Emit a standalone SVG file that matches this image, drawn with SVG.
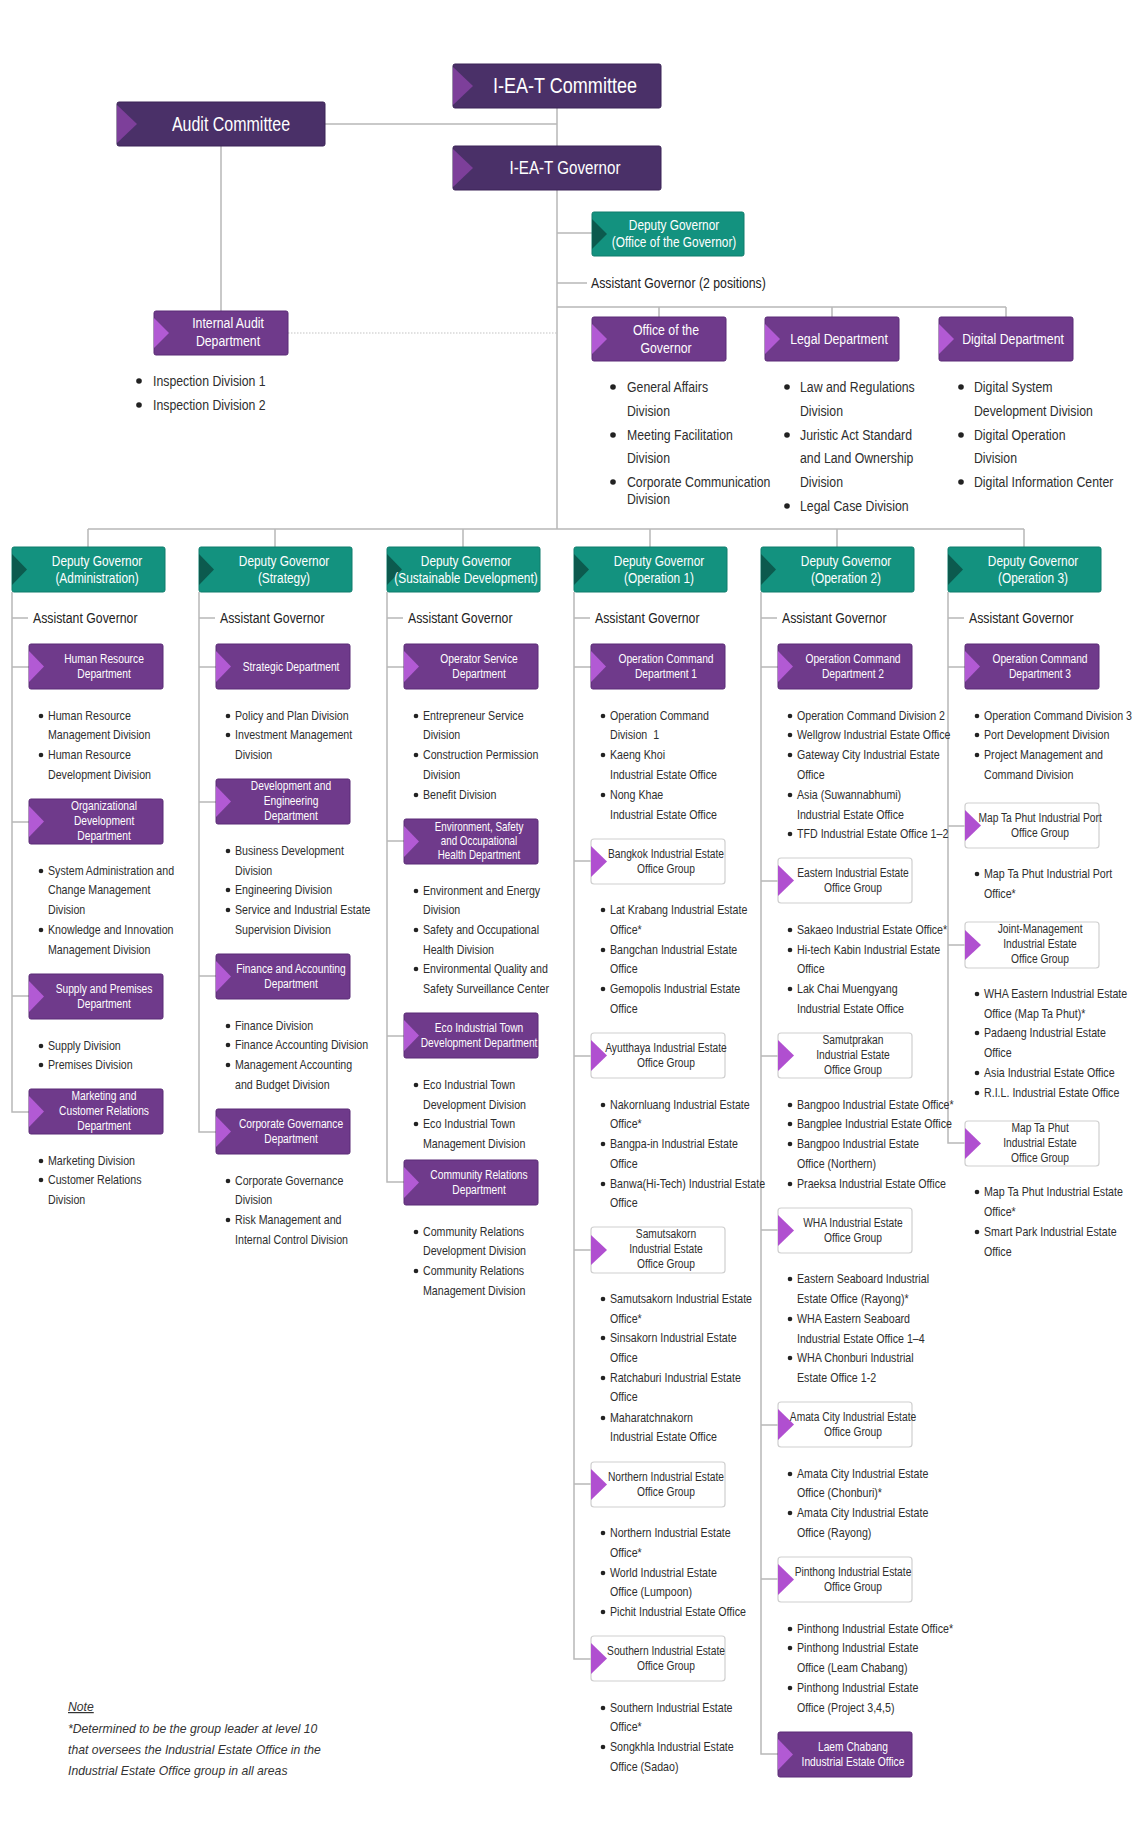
<svg xmlns="http://www.w3.org/2000/svg" width="1140" height="1841" viewBox="0 0 1140 1841">
<style>
text{font-family:"Liberation Sans",Arial,sans-serif;transform-box:fill-box;transform-origin:50% 50%;transform:scaleX(0.82)}
.ln{stroke:#b8b8b8;stroke-width:1.5;fill:none}
.dt{stroke:#c4c4c4;stroke-width:1.2;stroke-dasharray:1.5 1.5;fill:none}
.db{fill:#4a3068;stroke:#3a2356;stroke-width:1}
.dc{fill:#7d3f9a}
.pb{fill:#6f3a8b;stroke:#5a2a76;stroke-width:1}
.pc{fill:#b25ad4}
.tb{fill:#13927f;stroke:#0f7d6c;stroke-width:1}
.tc{fill:#0c5a4e}
.wb{fill:#fff;stroke:#cfcfcf;stroke-width:1.2}
.wc{fill:#b04fd0}
.wt{fill:#fff;font-size:12.5px;text-anchor:middle}
.tt{fill:#fff;font-size:14.5px;text-anchor:middle}
.gt{fill:#2e2e2e;font-size:12.5px;text-anchor:middle}
.lt{fill:#2e2e2e;font-size:13px;transform-origin:0% 50%}
.ht{fill:#2e2e2e;font-size:15px;transform-origin:0% 50%}
.ag{fill:#222;font-size:15px;transform-origin:0% 50%}
.bu{fill:#222}
.nt{fill:#333;font-size:12.2px;font-style:italic;transform:none}
</style>
<rect width="1140" height="1841" fill="#fff"/>

<g id="connectors">
<path class="ln" d="M557,108 V146 M325,124 H557 M557,190 V529 M557,233 H592 M557,283 H587 M557,307 H1006 M659,307 V317 M832,307 V317 M1006,307 V317 M221,146 V311"/>
<path class="dt" d="M288,333 H557"/>
<path class="ln" d="M88,529 H1024 M88,529 V547 M275,529 V547 M463,529 V547 M650,529 V547 M837,529 V547 M1024,529 V547"/>
<path class="ln" d="M12,592 V1112 H29 M12,618 H28 M12,667 H29 M12,822 H29 M12,996 H29"/>
<path class="ln" d="M199,592 V1132 H216 M199,618 H215 M199,667 H216 M199,802 H216 M199,976 H216"/>
<path class="ln" d="M387,592 V1182 H404 M387,618 H403 M387,667 H404 M387,841 H404 M387,1036 H404"/>
<path class="ln" d="M574,592 V1659 H591 M574,618 H590 M574,667 H591 M574,861 H591 M574,1056 H591 M574,1250 H591 M574,1484 H591"/>
<path class="ln" d="M761,592 V1754 H778 M761,618 H777 M761,667 H778 M761,881 H778 M761,1056 H778 M761,1230 H778 M761,1425 H778 M761,1579 H778"/>
<path class="ln" d="M948,592 V1143 H965 M948,618 H964 M948,667 H965 M948,826 H965 M948,945 H965"/>
</g>

<g id="committee">
<rect class="db" x="453" y="64" width="208" height="44" rx="2"/>
<polygon class="dc" points="453,67 473,86 453,105"/>
<text x="565" y="93.5" fill="#fff" font-size="22" text-anchor="middle">I-EA-T Committee</text>
</g>
<g id="audit-committee">
<rect class="db" x="117" y="102" width="208" height="44" rx="2"/>
<polygon class="dc" points="117,105 137,124 117,143"/>
<text x="231" y="131" fill="#fff" font-size="19.5" text-anchor="middle">Audit Committee</text>
</g>
<g id="governor">
<rect class="db" x="453" y="146" width="208" height="44" rx="2"/>
<polygon class="dc" points="453,149 473,168 453,187"/>
<text x="565" y="174.5" fill="#fff" font-size="18.5" text-anchor="middle">I-EA-T Governor</text>
</g>
<g id="deputy-office">
<rect class="tb" x="592" y="212" width="152" height="44" rx="2"/>
<polygon class="tc" points="592,219 607,234 592,249"/>
<text class="tt" x="674" y="230">Deputy Governor</text>
<text class="tt" x="674" y="247">(Office of the Governor)</text>
</g>
<g id="assistant-2">
<text class="ag" x="591" y="288">Assistant Governor (2 positions)</text>
</g>

<g id="internal-audit">
<rect class="pb" x="154" y="311" width="134" height="44" rx="2"/>
<polygon class="pc" points="154,318 169,333 154,348"/>
<text x="228" y="328.5" fill="#fff" font-size="15" text-anchor="middle">Internal Audit</text>
<text x="228" y="346.5" fill="#fff" font-size="15" text-anchor="middle">Department</text>
<circle class="bu" cx="139" cy="381" r="2.8"/><text class="ht" x="153" y="386">Inspection Division 1</text>
<circle class="bu" cx="139" cy="405" r="2.8"/><text class="ht" x="153" y="410">Inspection Division 2</text>
</g>

<g id="office-governor">
<rect class="pb" x="592" y="317" width="134" height="44" rx="2"/>
<polygon class="pc" points="592,324 607,339 592,354"/>
<text x="666" y="335.5" fill="#fff" font-size="15" text-anchor="middle">Office of the</text>
<text x="666" y="353.5" fill="#fff" font-size="15" text-anchor="middle">Governor</text>
<circle class="bu" cx="613" cy="387" r="2.8"/><text class="ht" x="627" y="392">General Affairs</text>
<text class="ht" x="627" y="416">Division</text>
<circle class="bu" cx="613" cy="435" r="2.8"/><text class="ht" x="627" y="440">Meeting Facilitation</text>
<text class="ht" x="627" y="463">Division</text>
<circle class="bu" cx="613" cy="482" r="2.8"/><text class="ht" x="627" y="487">Corporate Communication</text>
<text class="ht" x="627" y="504">Division</text>
</g>
<g id="legal">
<rect class="pb" x="765" y="317" width="134" height="44" rx="2"/>
<polygon class="pc" points="765,324 780,339 765,354"/>
<text x="839" y="344.5" fill="#fff" font-size="15" text-anchor="middle">Legal Department</text>
<circle class="bu" cx="787" cy="387" r="2.8"/><text class="ht" x="800" y="392">Law and Regulations</text>
<text class="ht" x="800" y="416">Division</text>
<circle class="bu" cx="787" cy="435" r="2.8"/><text class="ht" x="800" y="440">Juristic Act Standard</text>
<text class="ht" x="800" y="463">and Land Ownership</text>
<text class="ht" x="800" y="487">Division</text>
<circle class="bu" cx="787" cy="506" r="2.8"/><text class="ht" x="800" y="511">Legal Case Division</text>
</g>
<g id="digital">
<rect class="pb" x="939" y="317" width="134" height="44" rx="2"/>
<polygon class="pc" points="939,324 954,339 939,354"/>
<text x="1013" y="344.5" fill="#fff" font-size="15" text-anchor="middle">Digital Department</text>
<circle class="bu" cx="961" cy="387" r="2.8"/><text class="ht" x="974" y="392">Digital System</text>
<text class="ht" x="974" y="416">Development Division</text>
<circle class="bu" cx="961" cy="435" r="2.8"/><text class="ht" x="974" y="440">Digital Operation</text>
<text class="ht" x="974" y="463">Division</text>
<circle class="bu" cx="961" cy="482" r="2.8"/><text class="ht" x="974" y="487">Digital Information Center</text>
</g>

<!-- Column 1 -->
<g id="dg-admin">
<rect class="tb" x="12" y="547" width="153" height="45" rx="2"/>
<polygon class="tc" points="12,554 27,569.5 12,585"/>
<text class="tt" x="97" y="566">Deputy Governor</text>
<text class="tt" x="97" y="583">(Administration)</text>
<text class="ag" x="33" y="623">Assistant Governor</text>
</g>
<g id="hr-dept">
<rect class="pb" x="29" y="644" width="134" height="45" rx="2"/>
<polygon class="pc" points="29,651 44,666.5 29,682"/>
<text class="wt" x="104" y="663">Human Resource</text>
<text class="wt" x="104" y="678">Department</text>
<circle class="bu" cx="41" cy="716" r="2.3"/><text class="lt" x="48" y="720">Human Resource</text>
<text class="lt" x="48" y="739">Management Division</text>
<circle class="bu" cx="41" cy="755" r="2.3"/><text class="lt" x="48" y="759">Human Resource</text>
<text class="lt" x="48" y="779">Development Division</text>
</g>
<g id="orgdev-dept">
<rect class="pb" x="29" y="799" width="134" height="45" rx="2"/>
<polygon class="pc" points="29,806 44,821.5 29,837"/>
<text class="wt" x="104" y="810.5">Organizational</text>
<text class="wt" x="104" y="825.5">Development</text>
<text class="wt" x="104" y="840.5">Department</text>
<circle class="bu" cx="41" cy="871" r="2.3"/><text class="lt" x="48" y="875">System Administration and</text>
<text class="lt" x="48" y="894">Change Management</text>
<text class="lt" x="48" y="914">Division</text>
<circle class="bu" cx="41" cy="930" r="2.3"/><text class="lt" x="48" y="934">Knowledge and Innovation</text>
<text class="lt" x="48" y="954">Management Division</text>
</g>
<g id="supply-dept">
<rect class="pb" x="29" y="974" width="134" height="45" rx="2"/>
<polygon class="pc" points="29,981 44,996.5 29,1012"/>
<text class="wt" x="104" y="993.5">Supply and Premises</text>
<text class="wt" x="104" y="1008">Department</text>
<circle class="bu" cx="41" cy="1046" r="2.3"/><text class="lt" x="48" y="1050">Supply Division</text>
<circle class="bu" cx="41" cy="1065" r="2.3"/><text class="lt" x="48" y="1069">Premises Division</text>
</g>
<g id="marketing-dept">
<rect class="pb" x="29" y="1089" width="134" height="45" rx="2"/>
<polygon class="pc" points="29,1096 44,1111.5 29,1127"/>
<text class="wt" x="104" y="1100.5">Marketing and</text>
<text class="wt" x="104" y="1115.5">Customer Relations</text>
<text class="wt" x="104" y="1130.5">Department</text>
<circle class="bu" cx="41" cy="1161" r="2.3"/><text class="lt" x="48" y="1165">Marketing Division</text>
<circle class="bu" cx="41" cy="1180" r="2.3"/><text class="lt" x="48" y="1184">Customer Relations</text>
<text class="lt" x="48" y="1204">Division</text>
</g>

<!-- Column 2 -->
<g id="dg-strategy">
<rect class="tb" x="199" y="547" width="153" height="45" rx="2"/>
<polygon class="tc" points="199,554 214,569.5 199,585"/>
<text class="tt" x="284" y="566">Deputy Governor</text>
<text class="tt" x="284" y="583">(Strategy)</text>
<text class="ag" x="220" y="623">Assistant Governor</text>
</g>
<g id="strategic-dept">
<rect class="pb" x="216" y="644" width="134" height="45" rx="2"/>
<polygon class="pc" points="216,651 231,666.5 216,682"/>
<text class="wt" x="291" y="671">Strategic Department</text>
<circle class="bu" cx="228" cy="716" r="2.3"/><text class="lt" x="235" y="720">Policy and Plan Division</text>
<circle class="bu" cx="228" cy="735" r="2.3"/><text class="lt" x="235" y="739">Investment Management</text>
<text class="lt" x="235" y="759">Division</text>
</g>
<g id="deveng-dept">
<rect class="pb" x="216" y="779" width="134" height="45" rx="2"/>
<polygon class="pc" points="216,786 231,801.5 216,817"/>
<text class="wt" x="291" y="790.5">Development and</text>
<text class="wt" x="291" y="805.5">Engineering</text>
<text class="wt" x="291" y="820.5">Department</text>
<circle class="bu" cx="228" cy="851" r="2.3"/><text class="lt" x="235" y="855">Business Development</text>
<text class="lt" x="235" y="875">Division</text>
<circle class="bu" cx="228" cy="890" r="2.3"/><text class="lt" x="235" y="894">Engineering Division</text>
<circle class="bu" cx="228" cy="910" r="2.3"/><text class="lt" x="235" y="914">Service and Industrial Estate</text>
<text class="lt" x="235" y="934">Supervision Division</text>
</g>
<g id="finance-dept">
<rect class="pb" x="216" y="954" width="134" height="45" rx="2"/>
<polygon class="pc" points="216,961 231,976.5 216,992"/>
<text class="wt" x="291" y="973.5">Finance and Accounting</text>
<text class="wt" x="291" y="988">Department</text>
<circle class="bu" cx="228" cy="1026" r="2.3"/><text class="lt" x="235" y="1030">Finance Division</text>
<circle class="bu" cx="228" cy="1045" r="2.3"/><text class="lt" x="235" y="1049">Finance Accounting Division</text>
<circle class="bu" cx="228" cy="1065" r="2.3"/><text class="lt" x="235" y="1069">Management Accounting</text>
<text class="lt" x="235" y="1089">and Budget Division</text>
</g>
<g id="corpgov-dept">
<rect class="pb" x="216" y="1109" width="134" height="45" rx="2"/>
<polygon class="pc" points="216,1116 231,1131.5 216,1147"/>
<text class="wt" x="291" y="1128.5">Corporate Governance</text>
<text class="wt" x="291" y="1143">Department</text>
<circle class="bu" cx="228" cy="1181" r="2.3"/><text class="lt" x="235" y="1185">Corporate Governance</text>
<text class="lt" x="235" y="1204">Division</text>
<circle class="bu" cx="228" cy="1220" r="2.3"/><text class="lt" x="235" y="1224">Risk Management and</text>
<text class="lt" x="235" y="1244">Internal Control Division</text>
</g>

<!-- Column 3 -->
<g id="dg-sustainable">
<rect class="tb" x="387" y="547" width="153" height="45" rx="2"/>
<polygon class="tc" points="387,554 402,569.5 387,585"/>
<text class="tt" x="466" y="566">Deputy Governor</text>
<text class="tt" x="466" y="583">(Sustainable Development)</text>
<text class="ag" x="408" y="623">Assistant Governor</text>
</g>
<g id="operator-dept">
<rect class="pb" x="404" y="644" width="134" height="45" rx="2"/>
<polygon class="pc" points="404,651 419,666.5 404,682"/>
<text class="wt" x="479" y="663">Operator Service</text>
<text class="wt" x="479" y="678">Department</text>
<circle class="bu" cx="416" cy="716" r="2.3"/><text class="lt" x="423" y="720">Entrepreneur Service</text>
<text class="lt" x="423" y="739">Division</text>
<circle class="bu" cx="416" cy="755" r="2.3"/><text class="lt" x="423" y="759">Construction Permission</text>
<text class="lt" x="423" y="779">Division</text>
<circle class="bu" cx="416" cy="795" r="2.3"/><text class="lt" x="423" y="799">Benefit Division</text>
</g>
<g id="envsafety-dept">
<rect class="pb" x="404" y="819" width="134" height="45" rx="2"/>
<polygon class="pc" points="404,826 419,841.5 404,857"/>
<text class="wt" x="479" y="831.5" style="font-size:12px">Environment, Safety</text>
<text class="wt" x="479" y="845.5" style="font-size:12px">and Occupational</text>
<text class="wt" x="479" y="859.5" style="font-size:12px">Health Department</text>
<circle class="bu" cx="416" cy="891" r="2.3"/><text class="lt" x="423" y="895">Environment and Energy</text>
<text class="lt" x="423" y="914">Division</text>
<circle class="bu" cx="416" cy="930" r="2.3"/><text class="lt" x="423" y="934">Safety and Occupational</text>
<text class="lt" x="423" y="954">Health Division</text>
<circle class="bu" cx="416" cy="969" r="2.3"/><text class="lt" x="423" y="973">Environmental Quality and</text>
<text class="lt" x="423" y="993">Safety Surveillance Center</text>
</g>
<g id="eco-dept">
<rect class="pb" x="404" y="1013" width="134" height="45" rx="2"/>
<polygon class="pc" points="404,1020 419,1035.5 404,1051"/>
<text class="wt" x="479" y="1032.5">Eco Industrial Town</text>
<text class="wt" x="479" y="1047">Development Department</text>
<circle class="bu" cx="416" cy="1085" r="2.3"/><text class="lt" x="423" y="1089">Eco Industrial Town</text>
<text class="lt" x="423" y="1109">Development Division</text>
<circle class="bu" cx="416" cy="1124" r="2.3"/><text class="lt" x="423" y="1128">Eco Industrial Town</text>
<text class="lt" x="423" y="1148">Management Division</text>
</g>
<g id="community-dept">
<rect class="pb" x="404" y="1160" width="134" height="45" rx="2"/>
<polygon class="pc" points="404,1167 419,1182.5 404,1198"/>
<text class="wt" x="479" y="1179.5">Community Relations</text>
<text class="wt" x="479" y="1194">Department</text>
<circle class="bu" cx="416" cy="1232" r="2.3"/><text class="lt" x="423" y="1236">Community Relations</text>
<text class="lt" x="423" y="1255">Development Division</text>
<circle class="bu" cx="416" cy="1271" r="2.3"/><text class="lt" x="423" y="1275">Community Relations</text>
<text class="lt" x="423" y="1295">Management Division</text>
</g>

<!-- Column 4 -->
<g id="dg-op1">
<rect class="tb" x="574" y="547" width="153" height="45" rx="2"/>
<polygon class="tc" points="574,554 589,569.5 574,585"/>
<text class="tt" x="659" y="566">Deputy Governor</text>
<text class="tt" x="659" y="583">(Operation 1)</text>
<text class="ag" x="595" y="623">Assistant Governor</text>
</g>
<g id="opcmd1-dept">
<rect class="pb" x="591" y="644" width="134" height="45" rx="2"/>
<polygon class="pc" points="591,651 606,666.5 591,682"/>
<text class="wt" x="666" y="663">Operation Command</text>
<text class="wt" x="666" y="678">Department 1</text>
<circle class="bu" cx="603" cy="716" r="2.3"/><text class="lt" x="610" y="720">Operation Command</text>
<text class="lt" x="610" y="739" xml:space="preserve">Division  1</text>
<circle class="bu" cx="603" cy="755" r="2.3"/><text class="lt" x="610" y="759">Kaeng Khoi</text>
<text class="lt" x="610" y="779">Industrial Estate Office</text>
<circle class="bu" cx="603" cy="795" r="2.3"/><text class="lt" x="610" y="799">Nong Khae</text>
<text class="lt" x="610" y="819">Industrial Estate Office</text>
</g>
<g id="bangkok-group">
<rect class="wb" x="591" y="839" width="134" height="45" rx="3"/>
<polygon class="wc" points="591,846 607,861.5 591,877"/>
<text class="gt" x="666" y="858.5">Bangkok Industrial Estate</text>
<text class="gt" x="666" y="873">Office Group</text>
<circle class="bu" cx="603" cy="910" r="2.3"/><text class="lt" x="610" y="914">Lat Krabang Industrial Estate</text>
<text class="lt" x="610" y="934">Office*</text>
<circle class="bu" cx="603" cy="950" r="2.3"/><text class="lt" x="610" y="954">Bangchan Industrial Estate</text>
<text class="lt" x="610" y="973">Office</text>
<circle class="bu" cx="603" cy="989" r="2.3"/><text class="lt" x="610" y="993">Gemopolis Industrial Estate</text>
<text class="lt" x="610" y="1013">Office</text>
</g>
<g id="ayutthaya-group">
<rect class="wb" x="591" y="1033" width="134" height="45" rx="3"/>
<polygon class="wc" points="591,1040 607,1055.5 591,1071"/>
<text class="gt" x="666" y="1052.5">Ayutthaya Industrial Estate</text>
<text class="gt" x="666" y="1067">Office Group</text>
<circle class="bu" cx="603" cy="1105" r="2.3"/><text class="lt" x="610" y="1109">Nakornluang Industrial Estate</text>
<text class="lt" x="610" y="1128">Office*</text>
<circle class="bu" cx="603" cy="1144" r="2.3"/><text class="lt" x="610" y="1148">Bangpa-in Industrial Estate</text>
<text class="lt" x="610" y="1168">Office</text>
<circle class="bu" cx="603" cy="1184" r="2.3"/><text class="lt" x="610" y="1188">Banwa(Hi-Tech) Industrial Estate</text>
<text class="lt" x="610" y="1207">Office</text>
</g>
<g id="samutsakorn-group">
<rect class="wb" x="591" y="1227" width="134" height="46" rx="3"/>
<polygon class="wc" points="591,1235 607,1250 591,1265"/>
<text class="gt" x="666" y="1238.5">Samutsakorn</text>
<text class="gt" x="666" y="1253.5">Industrial Estate</text>
<text class="gt" x="666" y="1268.5">Office Group</text>
<circle class="bu" cx="603" cy="1299" r="2.3"/><text class="lt" x="610" y="1303">Samutsakorn Industrial Estate</text>
<text class="lt" x="610" y="1323">Office*</text>
<circle class="bu" cx="603" cy="1338" r="2.3"/><text class="lt" x="610" y="1342">Sinsakorn Industrial Estate</text>
<text class="lt" x="610" y="1362">Office</text>
<circle class="bu" cx="603" cy="1378" r="2.3"/><text class="lt" x="610" y="1382">Ratchaburi Industrial Estate</text>
<text class="lt" x="610" y="1401">Office</text>
<circle class="bu" cx="603" cy="1418" r="2.3"/><text class="lt" x="610" y="1422">Maharatchnakorn</text>
<text class="lt" x="610" y="1441">Industrial Estate Office</text>
</g>
<g id="northern-group">
<rect class="wb" x="591" y="1462" width="134" height="45" rx="3"/>
<polygon class="wc" points="591,1469 607,1484.5 591,1500"/>
<text class="gt" x="666" y="1481.5">Northern Industrial Estate</text>
<text class="gt" x="666" y="1496">Office Group</text>
<circle class="bu" cx="603" cy="1533" r="2.3"/><text class="lt" x="610" y="1537">Northern Industrial Estate</text>
<text class="lt" x="610" y="1557">Office*</text>
<circle class="bu" cx="603" cy="1573" r="2.3"/><text class="lt" x="610" y="1577">World Industrial Estate</text>
<text class="lt" x="610" y="1596">Office (Lumpoon)</text>
<circle class="bu" cx="603" cy="1612" r="2.3"/><text class="lt" x="610" y="1616">Pichit Industrial Estate Office</text>
</g>
<g id="southern-group">
<rect class="wb" x="591" y="1636" width="134" height="45" rx="3"/>
<polygon class="wc" points="591,1643 607,1658.5 591,1674"/>
<text class="gt" x="666" y="1655.5">Southern Industrial Estate</text>
<text class="gt" x="666" y="1670">Office Group</text>
<circle class="bu" cx="603" cy="1708" r="2.3"/><text class="lt" x="610" y="1712">Southern Industrial Estate</text>
<text class="lt" x="610" y="1731">Office*</text>
<circle class="bu" cx="603" cy="1747" r="2.3"/><text class="lt" x="610" y="1751">Songkhla Industrial Estate</text>
<text class="lt" x="610" y="1771">Office (Sadao)</text>
</g>

<!-- Column 5 -->
<g id="dg-op2">
<rect class="tb" x="761" y="547" width="153" height="45" rx="2"/>
<polygon class="tc" points="761,554 776,569.5 761,585"/>
<text class="tt" x="846" y="566">Deputy Governor</text>
<text class="tt" x="846" y="583">(Operation 2)</text>
<text class="ag" x="782" y="623">Assistant Governor</text>
</g>
<g id="opcmd2-dept">
<rect class="pb" x="778" y="644" width="134" height="45" rx="2"/>
<polygon class="pc" points="778,651 793,666.5 778,682"/>
<text class="wt" x="853" y="663">Operation Command</text>
<text class="wt" x="853" y="678">Department 2</text>
<circle class="bu" cx="790" cy="716" r="2.3"/><text class="lt" x="797" y="720">Operation Command Division 2</text>
<circle class="bu" cx="790" cy="735" r="2.3"/><text class="lt" x="797" y="739">Wellgrow Industrial Estate Office</text>
<circle class="bu" cx="790" cy="755" r="2.3"/><text class="lt" x="797" y="759">Gateway City Industrial Estate</text>
<text class="lt" x="797" y="779">Office</text>
<circle class="bu" cx="790" cy="795" r="2.3"/><text class="lt" x="797" y="799">Asia (Suwannabhumi)</text>
<text class="lt" x="797" y="819">Industrial Estate Office</text>
<circle class="bu" cx="790" cy="834" r="2.3"/><text class="lt" x="797" y="838">TFD Industrial Estate Office 1–2</text>
</g>
<g id="eastern-group">
<rect class="wb" x="778" y="858" width="134" height="45" rx="3"/>
<polygon class="wc" points="778,865 794,880.5 778,896"/>
<text class="gt" x="853" y="877.5">Eastern Industrial Estate</text>
<text class="gt" x="853" y="892">Office Group</text>
<circle class="bu" cx="790" cy="930" r="2.3"/><text class="lt" x="797" y="934">Sakaeo Industrial Estate Office*</text>
<circle class="bu" cx="790" cy="950" r="2.3"/><text class="lt" x="797" y="954">Hi-tech Kabin Industrial Estate</text>
<text class="lt" x="797" y="973">Office</text>
<circle class="bu" cx="790" cy="989" r="2.3"/><text class="lt" x="797" y="993">Lak Chai Muengyang</text>
<text class="lt" x="797" y="1013">Industrial Estate Office</text>
</g>
<g id="samutprakan-group">
<rect class="wb" x="778" y="1033" width="134" height="45" rx="3"/>
<polygon class="wc" points="778,1040 794,1055.5 778,1071"/>
<text class="gt" x="853" y="1044.5">Samutprakan</text>
<text class="gt" x="853" y="1059.5">Industrial Estate</text>
<text class="gt" x="853" y="1074.5">Office Group</text>
<circle class="bu" cx="790" cy="1105" r="2.3"/><text class="lt" x="797" y="1109">Bangpoo Industrial Estate Office*</text>
<circle class="bu" cx="790" cy="1124" r="2.3"/><text class="lt" x="797" y="1128">Bangplee Industrial Estate Office</text>
<circle class="bu" cx="790" cy="1144" r="2.3"/><text class="lt" x="797" y="1148">Bangpoo Industrial Estate</text>
<text class="lt" x="797" y="1168">Office (Northern)</text>
<circle class="bu" cx="790" cy="1184" r="2.3"/><text class="lt" x="797" y="1188">Praeksa Industrial Estate Office</text>
</g>
<g id="wha-group">
<rect class="wb" x="778" y="1208" width="134" height="45" rx="3"/>
<polygon class="wc" points="778,1215 794,1230.5 778,1246"/>
<text class="gt" x="853" y="1227.5">WHA Industrial Estate</text>
<text class="gt" x="853" y="1242">Office Group</text>
<circle class="bu" cx="790" cy="1279" r="2.3"/><text class="lt" x="797" y="1283">Eastern Seaboard Industrial</text>
<text class="lt" x="797" y="1303">Estate Office (Rayong)*</text>
<circle class="bu" cx="790" cy="1319" r="2.3"/><text class="lt" x="797" y="1323">WHA Eastern Seaboard</text>
<text class="lt" x="797" y="1343">Industrial Estate Office 1–4</text>
<circle class="bu" cx="790" cy="1358" r="2.3"/><text class="lt" x="797" y="1362">WHA Chonburi Industrial</text>
<text class="lt" x="797" y="1382">Estate Office 1-2</text>
</g>
<g id="amata-group">
<rect class="wb" x="778" y="1402" width="134" height="45" rx="3"/>
<polygon class="wc" points="778,1409 794,1424.5 778,1440"/>
<text class="gt" x="853" y="1421.5">Amata City Industrial Estate</text>
<text class="gt" x="853" y="1436">Office Group</text>
<circle class="bu" cx="790" cy="1474" r="2.3"/><text class="lt" x="797" y="1478">Amata City Industrial Estate</text>
<text class="lt" x="797" y="1497">Office (Chonburi)*</text>
<circle class="bu" cx="790" cy="1513" r="2.3"/><text class="lt" x="797" y="1517">Amata City Industrial Estate</text>
<text class="lt" x="797" y="1537">Office (Rayong)</text>
</g>
<g id="pinthong-group">
<rect class="wb" x="778" y="1557" width="134" height="45" rx="3"/>
<polygon class="wc" points="778,1564 794,1579.5 778,1595"/>
<text class="gt" x="853" y="1576.5">Pinthong Industrial Estate</text>
<text class="gt" x="853" y="1591">Office Group</text>
<circle class="bu" cx="790" cy="1629" r="2.3"/><text class="lt" x="797" y="1633">Pinthong Industrial Estate Office*</text>
<circle class="bu" cx="790" cy="1648" r="2.3"/><text class="lt" x="797" y="1652">Pinthong Industrial Estate</text>
<text class="lt" x="797" y="1672">Office (Leam Chabang)</text>
<circle class="bu" cx="790" cy="1688" r="2.3"/><text class="lt" x="797" y="1692">Pinthong Industrial Estate</text>
<text class="lt" x="797" y="1712">Office (Project 3,4,5)</text>
</g>
<g id="laemchabang-office">
<rect class="pb" x="778" y="1732" width="134" height="45" rx="2"/>
<polygon class="pc" points="778,1739 793,1754.5 778,1770"/>
<text class="wt" x="853" y="1751.5">Laem Chabang</text>
<text class="wt" x="853" y="1766">Industrial Estate Office</text>
</g>

<!-- Column 6 -->
<g id="dg-op3">
<rect class="tb" x="948" y="547" width="153" height="45" rx="2"/>
<polygon class="tc" points="948,554 963,569.5 948,585"/>
<text class="tt" x="1033" y="566">Deputy Governor</text>
<text class="tt" x="1033" y="583">(Operation 3)</text>
<text class="ag" x="969" y="623">Assistant Governor</text>
</g>
<g id="opcmd3-dept">
<rect class="pb" x="965" y="644" width="134" height="45" rx="2"/>
<polygon class="pc" points="965,651 980,666.5 965,682"/>
<text class="wt" x="1040" y="663">Operation Command</text>
<text class="wt" x="1040" y="678">Department 3</text>
<circle class="bu" cx="977" cy="716" r="2.3"/><text class="lt" x="984" y="720">Operation Command Division 3</text>
<circle class="bu" cx="977" cy="735" r="2.3"/><text class="lt" x="984" y="739">Port Development Division</text>
<circle class="bu" cx="977" cy="755" r="2.3"/><text class="lt" x="984" y="759">Project Management and</text>
<text class="lt" x="984" y="779">Command Division</text>
</g>
<g id="mtp-port-group">
<rect class="wb" x="965" y="803" width="134" height="45" rx="3"/>
<polygon class="wc" points="965,810 981,825.5 965,841"/>
<text class="gt" x="1040" y="822.5">Map Ta Phut Industrial Port</text>
<text class="gt" x="1040" y="837">Office Group</text>
<circle class="bu" cx="977" cy="874" r="2.3"/><text class="lt" x="984" y="878">Map Ta Phut Industrial Port</text>
<text class="lt" x="984" y="898">Office*</text>
</g>
<g id="joint-group">
<rect class="wb" x="965" y="922" width="134" height="46" rx="3"/>
<polygon class="wc" points="965,930 981,945 965,960"/>
<text class="gt" x="1040" y="933.5">Joint-Management</text>
<text class="gt" x="1040" y="948.5">Industrial Estate</text>
<text class="gt" x="1040" y="963.5">Office Group</text>
<circle class="bu" cx="977" cy="994" r="2.3"/><text class="lt" x="984" y="998">WHA Eastern Industrial Estate</text>
<text class="lt" x="984" y="1018">Office (Map Ta Phut)*</text>
<circle class="bu" cx="977" cy="1033" r="2.3"/><text class="lt" x="984" y="1037">Padaeng Industrial Estate</text>
<text class="lt" x="984" y="1057">Office</text>
<circle class="bu" cx="977" cy="1073" r="2.3"/><text class="lt" x="984" y="1077">Asia Industrial Estate Office</text>
<circle class="bu" cx="977" cy="1093" r="2.3"/><text class="lt" x="984" y="1097">R.I.L. Industrial Estate Office</text>
</g>
<g id="mtp-ie-group">
<rect class="wb" x="965" y="1121" width="134" height="45" rx="3"/>
<polygon class="wc" points="965,1128 981,1143.5 965,1159"/>
<text class="gt" x="1040" y="1132.5">Map Ta Phut</text>
<text class="gt" x="1040" y="1147.5">Industrial Estate</text>
<text class="gt" x="1040" y="1162.5">Office Group</text>
<circle class="bu" cx="977" cy="1192" r="2.3"/><text class="lt" x="984" y="1196">Map Ta Phut Industrial Estate</text>
<text class="lt" x="984" y="1216">Office*</text>
<circle class="bu" cx="977" cy="1232" r="2.3"/><text class="lt" x="984" y="1236">Smart Park Industrial Estate</text>
<text class="lt" x="984" y="1256">Office</text>
</g>

<g id="note">
<text class="nt" x="68" y="1711" text-decoration="underline">Note</text>
<text class="nt" x="68" y="1733">*Determined to be the group leader at level 10</text>
<text class="nt" x="68" y="1754">that oversees the Industrial Estate Office in the</text>
<text class="nt" x="68" y="1775">Industrial Estate Office group in all areas</text>
</g>
</svg>
